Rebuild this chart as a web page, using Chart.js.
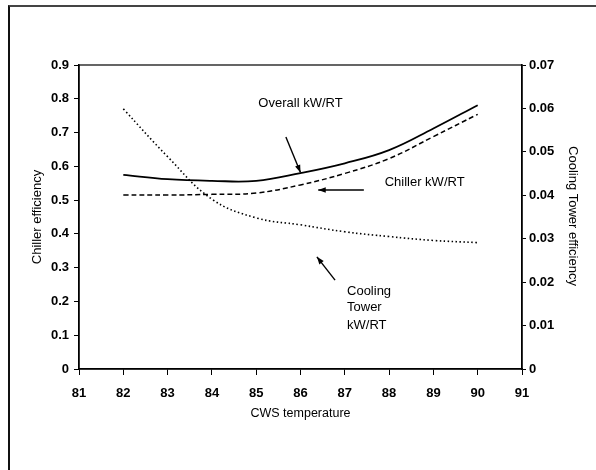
<!DOCTYPE html>
<html lang="en">
<head>
    <meta charset="UTF-8">
    <title>CWS temperature vs efficiency</title>
    <script src="https://cdn.jsdelivr.net/npm/chart.js"></script>
    <style>
        body { margin: 0; background: #fff; overflow: hidden; }
        .frame { position: absolute; left: 8px; top: 5px; width: 600px; height: 480px;
                 border-top: 2px solid #444; border-left: 2px solid #111; }
        canvas { position: absolute; left: 0; top: 0; }
    </style>
</head>
<body>
    <div class="frame"></div>
    <canvas id="chart" width="596" height="470"></canvas>

    <script>
        // values
        const cwsTemp = [82, 83, 84, 85, 86, 87, 88, 89, 90];
        const overallKw = [0.575, 0.562, 0.557, 0.557, 0.580, 0.609, 0.648, 0.712, 0.781];
        const chillerKw = [0.515, 0.515, 0.517, 0.521, 0.545, 0.579, 0.623, 0.688, 0.754];
        const towerKw = [0.0599, 0.0489, 0.0391, 0.0348, 0.0332, 0.0316, 0.0305, 0.0296, 0.0291];

        const font = 'Liberation Sans, Arial, sans-serif';

        function pts(ys) {
            return cwsTemp.map((x, i) => ({ x: x, y: ys[i] }));
        }

        // axis titles, notes and arrows (positions in data units)
        const notes = {
            id: 'notes',
            afterDraw(chart) {
                const c = chart.ctx, a = chart.chartArea;
                const sx = chart.scales.x, sy = chart.scales.y;
                const X = v => sx.getPixelForValue(v), Y = v => sy.getPixelForValue(v);
                c.save();
                c.strokeStyle = '#000';
                c.lineWidth = 1.2;
                c.strokeRect(a.left, a.top, a.right - a.left, a.bottom - a.top);

                c.fillStyle = '#000';
                c.font = '13px ' + font;
                c.textBaseline = 'middle';

                c.textAlign = 'center';
                c.fillText('Overall kW/RT', X(86), Y(0.785));
                c.textAlign = 'left';
                c.fillText('Chiller kW/RT', X(87.9), Y(0.553));
                c.fillText('Cooling', X(87.05), Y(0.231));
                c.fillText('Tower', X(87.05), Y(0.181));
                c.fillText('kW/RT', X(87.05), Y(0.130));

                function arrow(x1, y1, x2, y2) {
                    const px1 = X(x1), py1 = Y(y1), px2 = X(x2), py2 = Y(y2);
                    const ang = Math.atan2(py2 - py1, px2 - px1);
                    c.lineWidth = 1.4;
                    c.beginPath();
                    c.moveTo(px1, py1);
                    c.lineTo(px2, py2);
                    c.stroke();
                    c.beginPath();
                    c.moveTo(px2, py2);
                    c.lineTo(px2 - 8 * Math.cos(ang - 0.35), py2 - 8 * Math.sin(ang - 0.35));
                    c.lineTo(px2 - 8 * Math.cos(ang + 0.35), py2 - 8 * Math.sin(ang + 0.35));
                    c.closePath();
                    c.fill();
                }
                arrow(85.67, 0.687, 86.0, 0.582);
                arrow(87.43, 0.53, 86.4, 0.53);
                arrow(86.78, 0.263, 86.37, 0.332);

                // axis titles
                c.textAlign = 'center';
                c.font = '12.5px ' + font;
                c.fillText('CWS temperature', (a.left + a.right) / 2, 414);

                c.font = '13px ' + font;
                c.translate(37, 217);
                c.rotate(-Math.PI / 2);
                c.fillText('Chiller efficiency', 0, 0);
                c.restore();

                c.save();
                c.fillStyle = '#000';
                c.font = '13px ' + font;
                c.textAlign = 'center';
                c.textBaseline = 'middle';
                c.translate(573, 216);
                c.rotate(Math.PI / 2);
                c.fillText('Cooling Tower efficiency', 0, 0);
                c.restore();
            }
        };

        const tickFont = { family: font, size: 13, weight: 'bold' };

        new Chart(document.getElementById('chart').getContext('2d'), {
            type: 'line',
            data: {
                datasets: [{
                    label: 'Overall kW/RT',
                    data: pts(overallKw),
                    yAxisID: 'y',
                    borderColor: '#000',
                    borderWidth: 1.8,
                    pointRadius: 0,
                    tension: 0.4
                }, {
                    label: 'Chiller kW/RT',
                    data: pts(chillerKw),
                    yAxisID: 'y',
                    borderColor: '#000',
                    borderWidth: 1.5,
                    borderDash: [5, 3],
                    pointRadius: 0,
                    tension: 0.4
                }, {
                    label: 'Cooling Tower kW/RT',
                    data: pts(towerKw),
                    yAxisID: 'y1',
                    borderColor: '#000',
                    borderWidth: 1.6,
                    borderDash: [1.5, 2.5],
                    pointRadius: 0,
                    tension: 0.4
                }]
            },
            options: {
                responsive: false,
                animation: false,
                devicePixelRatio: 1,
                layout: { padding: { top: 65, bottom: 61, left: 0, right: 0 } },
                plugins: { legend: { display: false }, tooltip: { enabled: false } },
                scales: {
                    x: {
                        type: 'linear',
                        min: 81, max: 91,
                        afterFit(s) { s.height = 40; },
                        ticks: { stepSize: 1, color: '#000', font: tickFont, padding: 11 },
                        grid: { drawOnChartArea: false, tickLength: 6, color: '#000' },
                        border: { color: '#000', width: 1.5 }
                    },
                    y: {
                        position: 'left',
                        min: 0, max: 0.9,
                        afterFit(s) { s.width = 79; },
                        ticks: { stepSize: 0.1, color: '#000', font: tickFont, padding: 5,
                                 callback: v => Math.round(v * 10) / 10 },
                        grid: { drawOnChartArea: false, tickLength: 5, color: '#000' },
                        border: { color: '#000', width: 1.5 }
                    },
                    y1: {
                        position: 'right',
                        min: 0, max: 0.07,
                        afterFit(s) { s.width = 74; },
                        ticks: { stepSize: 0.01, color: '#000', font: tickFont, padding: 3,
                                 callback: v => Math.round(v * 100) / 100 },
                        grid: { drawOnChartArea: false, tickLength: 4, color: '#000' },
                        border: { color: '#000', width: 1.5 }
                    }
                }
            },
            plugins: [notes]
        });
    </script>
</body>
</html>
